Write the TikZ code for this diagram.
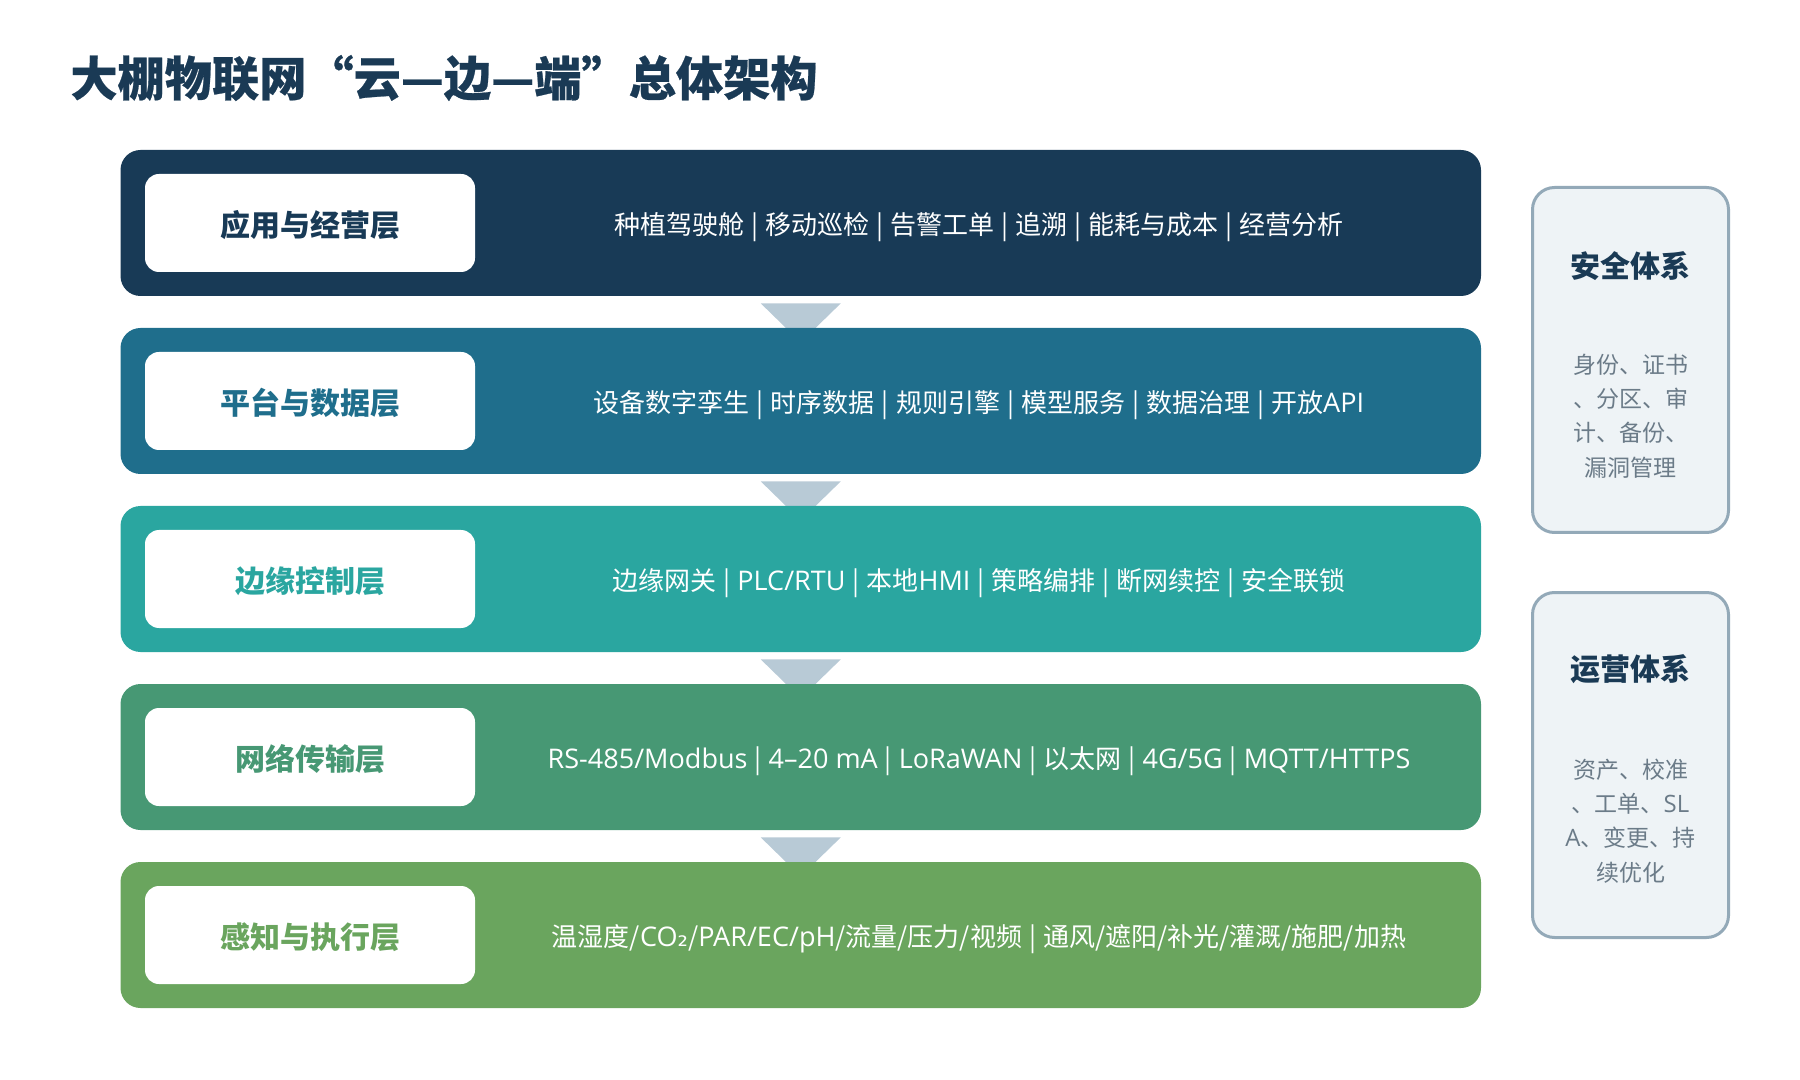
\documentclass[tikz,border=0pt]{standalone}
\usepackage{fontspec}
\setmainfont{Noto Sans CJK SC}
\newfontfamily\titlef[FakeBold=0.5]{Noto Sans CJK SC}
\newfontfamily\latf[Scale=1.04]{Open Sans}
\newfontfamily\dvf{DejaVu Sans}
\newcommand\Lx[1]{{\latf #1}}
\newcommand\sepbar{\hspace{0.27em}|\hspace{0.27em}}
\newcommand\lowtext[1]{\raisebox{-1.1pt}[\height][\depth]{#1}}
\definecolor{c1}{HTML}{183A56}
\definecolor{c2}{HTML}{1F6E8C}
\definecolor{c3}{HTML}{2AA6A0}
\definecolor{c4}{HTML}{479874}
\definecolor{c5}{HTML}{6AA55E}
\definecolor{arr}{HTML}{B8CAD6}
\definecolor{sidefill}{HTML}{EEF3F6}
\definecolor{sidedraw}{HTML}{93A9B8}
\definecolor{sidetext}{HTML}{6B7B88}
\definecolor{titlec}{HTML}{1A3A55}
\tikzset{
 layerbox/.style={rectangle, rounded corners=10pt, minimum width=680.25pt, minimum height=73pt, inner sep=0pt, fill=#1},
 tagbox/.style={rectangle, rounded corners=7pt, minimum width=165pt, minimum height=49pt, fill=white, inner sep=0pt, text=#1, font=\bfseries\fontsize{15}{15}\selectfont},
 desctext/.style={text=white, inner sep=0pt, font=\fontsize{13}{13}\selectfont},
 chev/.style={fill=arr},
 sidebox/.style={rectangle, rounded corners=11pt, minimum width=98pt, minimum height=172.5pt, fill=sidefill, draw=sidedraw, line width=1.5pt},
 sidetitle/.style={text=titlec, font=\bfseries\fontsize{15}{15}\selectfont, inner sep=0pt},
 sidebody/.style={text=sidetext, font=\fontsize{11.5}{17.2}\selectfont, align=center, inner sep=0pt},
}
\begin{document}
\begin{tikzpicture}[x=0.5pt,y=-0.5pt]
\useasboundingbox (0,0) rectangle (1800,1080);
\node[anchor=west, inner sep=0pt, text=titlec, font=\titlef\bfseries\fontsize{23.6}{23.6}\selectfont] (title) at (70,78) {大棚物联网“云—边—端”总体架构};

% layer 1
\node[layerbox=c1] (L1) at (800.75,223) {};
\node[tagbox=c1] (T1) at (310,223) {\lowtext{应用与经营层}};
\node[desctext] (D1) at (979,227) {种植驾驶舱\sepbar 移动巡检\sepbar 告警工单\sepbar 追溯\sepbar 能耗与成本\sepbar 经营分析};
\fill[chev] ([xshift=-20pt,yshift=-3.5pt]L1.south) -- ([xshift=20pt,yshift=-3.5pt]L1.south) -- ([yshift=-23pt]L1.south) -- cycle;

% layer 2
\node[layerbox=c2] (L2) at (800.75,401) {};
\node[tagbox=c2] (T2) at (310,401) {\lowtext{平台与数据层}};
\node[desctext] (D2) at (979,405) {设备数字孪生\sepbar 时序数据\sepbar 规则引擎\sepbar 模型服务\sepbar 数据治理\sepbar 开放\Lx{API}};
\fill[chev] ([xshift=-20pt,yshift=-3.5pt]L2.south) -- ([xshift=20pt,yshift=-3.5pt]L2.south) -- ([yshift=-23pt]L2.south) -- cycle;

% layer 3
\node[layerbox=c3] (L3) at (800.75,579) {};
\node[tagbox=c3] (T3) at (310,579) {\lowtext{边缘控制层}};
\node[desctext] (D3) at (979,583) {边缘网关\sepbar \Lx{PLC/RTU}\sepbar 本地\Lx{HMI}\sepbar 策略编排\sepbar 断网续控\sepbar 安全联锁};
\fill[chev] ([xshift=-20pt,yshift=-3.5pt]L3.south) -- ([xshift=20pt,yshift=-3.5pt]L3.south) -- ([yshift=-23pt]L3.south) -- cycle;

% layer 4
\node[layerbox=c4] (L4) at (800.75,757) {};
\node[tagbox=c4] (T4) at (310,757) {\lowtext{网络传输层}};
\node[desctext] (D4) at (979,761) {\Lx{RS-485/Modbus}\sepbar\Lx{4–20 mA}\sepbar\Lx{LoRaWAN}\sepbar 以太网\sepbar\Lx{4G/5G}\sepbar\Lx{MQTT/HTTPS}};
\fill[chev] ([xshift=-20pt,yshift=-3.5pt]L4.south) -- ([xshift=20pt,yshift=-3.5pt]L4.south) -- ([yshift=-23pt]L4.south) -- cycle;

% layer 5
\node[layerbox=c5] (L5) at (800.75,935) {};
\node[tagbox=c5] (T5) at (310,935) {\lowtext{感知与执行层}};
\node[desctext] (D5) at (979,939) {温湿度/\Lx{CO}{\dvf ₂}/\Lx{PAR/EC/pH}/流量/压力/视频\sepbar 通风/遮阳/补光/灌溉/施肥/加热};

% side boxes
\node[sidebox] (S1) at (1630.5,360) {};
\node[sidetitle] (S1t) at (1630.5,266) {安全体系};
\node[sidebody] (S1b) at (1630.5,416) {身份、证书\\、分区、审\\计、备份、\\漏洞管理};

\node[sidebox] (S2) at (1630.5,765) {};
\node[sidetitle] (S2t) at (1630.5,669) {运营体系};
\node[sidebody] (S2b) at (1630.5,821) {资产、校准\\、工单、\Lx{SL}\\\Lx{A}、变更、持\\续优化};
\end{tikzpicture}
\end{document}
